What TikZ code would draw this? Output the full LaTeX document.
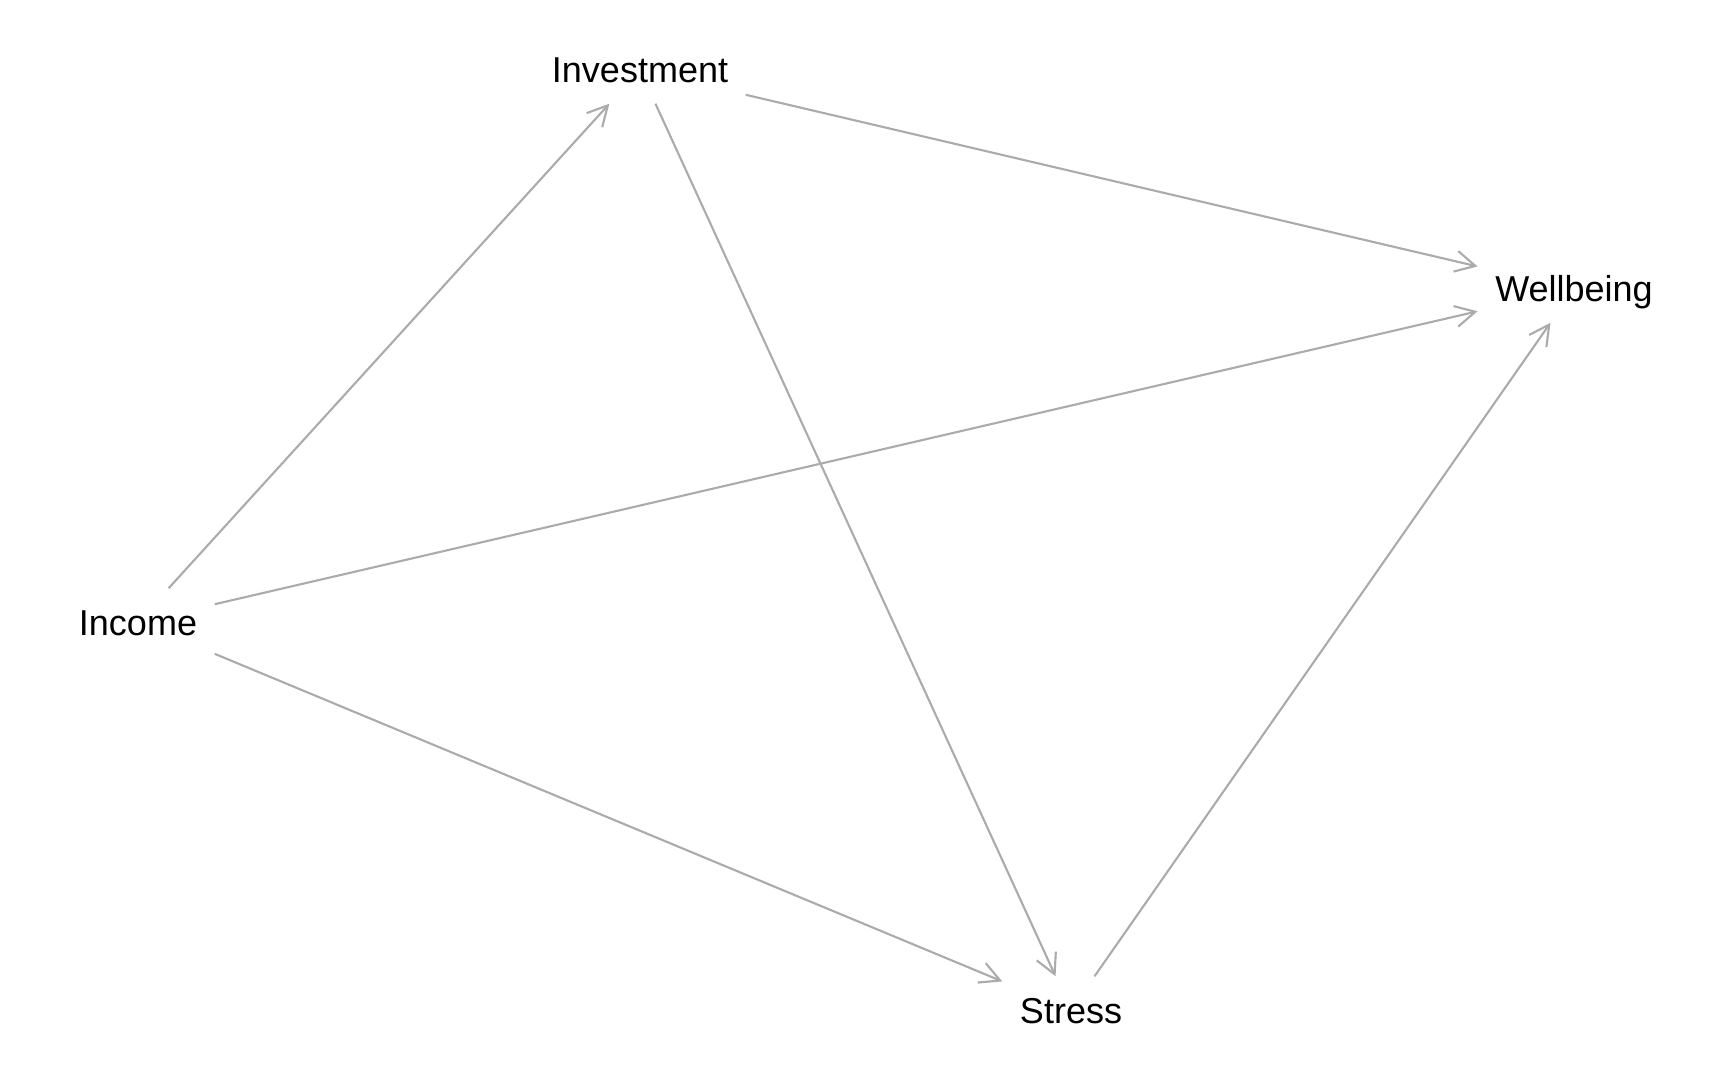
\documentclass[tikz,border=0pt]{standalone}
\usepackage{fontspec}
\setmainfont{Liberation Sans}
\usetikzlibrary{arrows.meta}
\definecolor{edgegray}{HTML}{ABABAB}
\tikzset{
  var/.style={rectangle, inner xsep=0.17cm, inner ysep=0pt, minimum height=0.66cm,
    text height=0.26cm, text depth=0pt, font=\fontsize{10.24pt}{12pt}\selectfont},
  path/.style={draw=edgegray, line width=0.6pt,
    -{Straight Barb[length=0.2cm,width=0.21cm]}}
}
\begin{document}
\begin{tikzpicture}[x=0.01cm, y=-0.01cm]
            \useasboundingbox (0,0) rectangle (1728,1080);
            \node[var] (inv) at (640,70) {Investment};
            \node[var] (well) at (1574,289) {Wellbeing};
            \node[var] (inc) at (138,622) {Income};
            \node[var] (str) at (1071,1010) {Stress};
            \foreach \a/\b in {inc/inv, inv/str, inv/well, inc/well, inc/str, str/well}{%
                    \draw[path] (\a) -- (\b);
                }
        \end{tikzpicture}
\end{document}
